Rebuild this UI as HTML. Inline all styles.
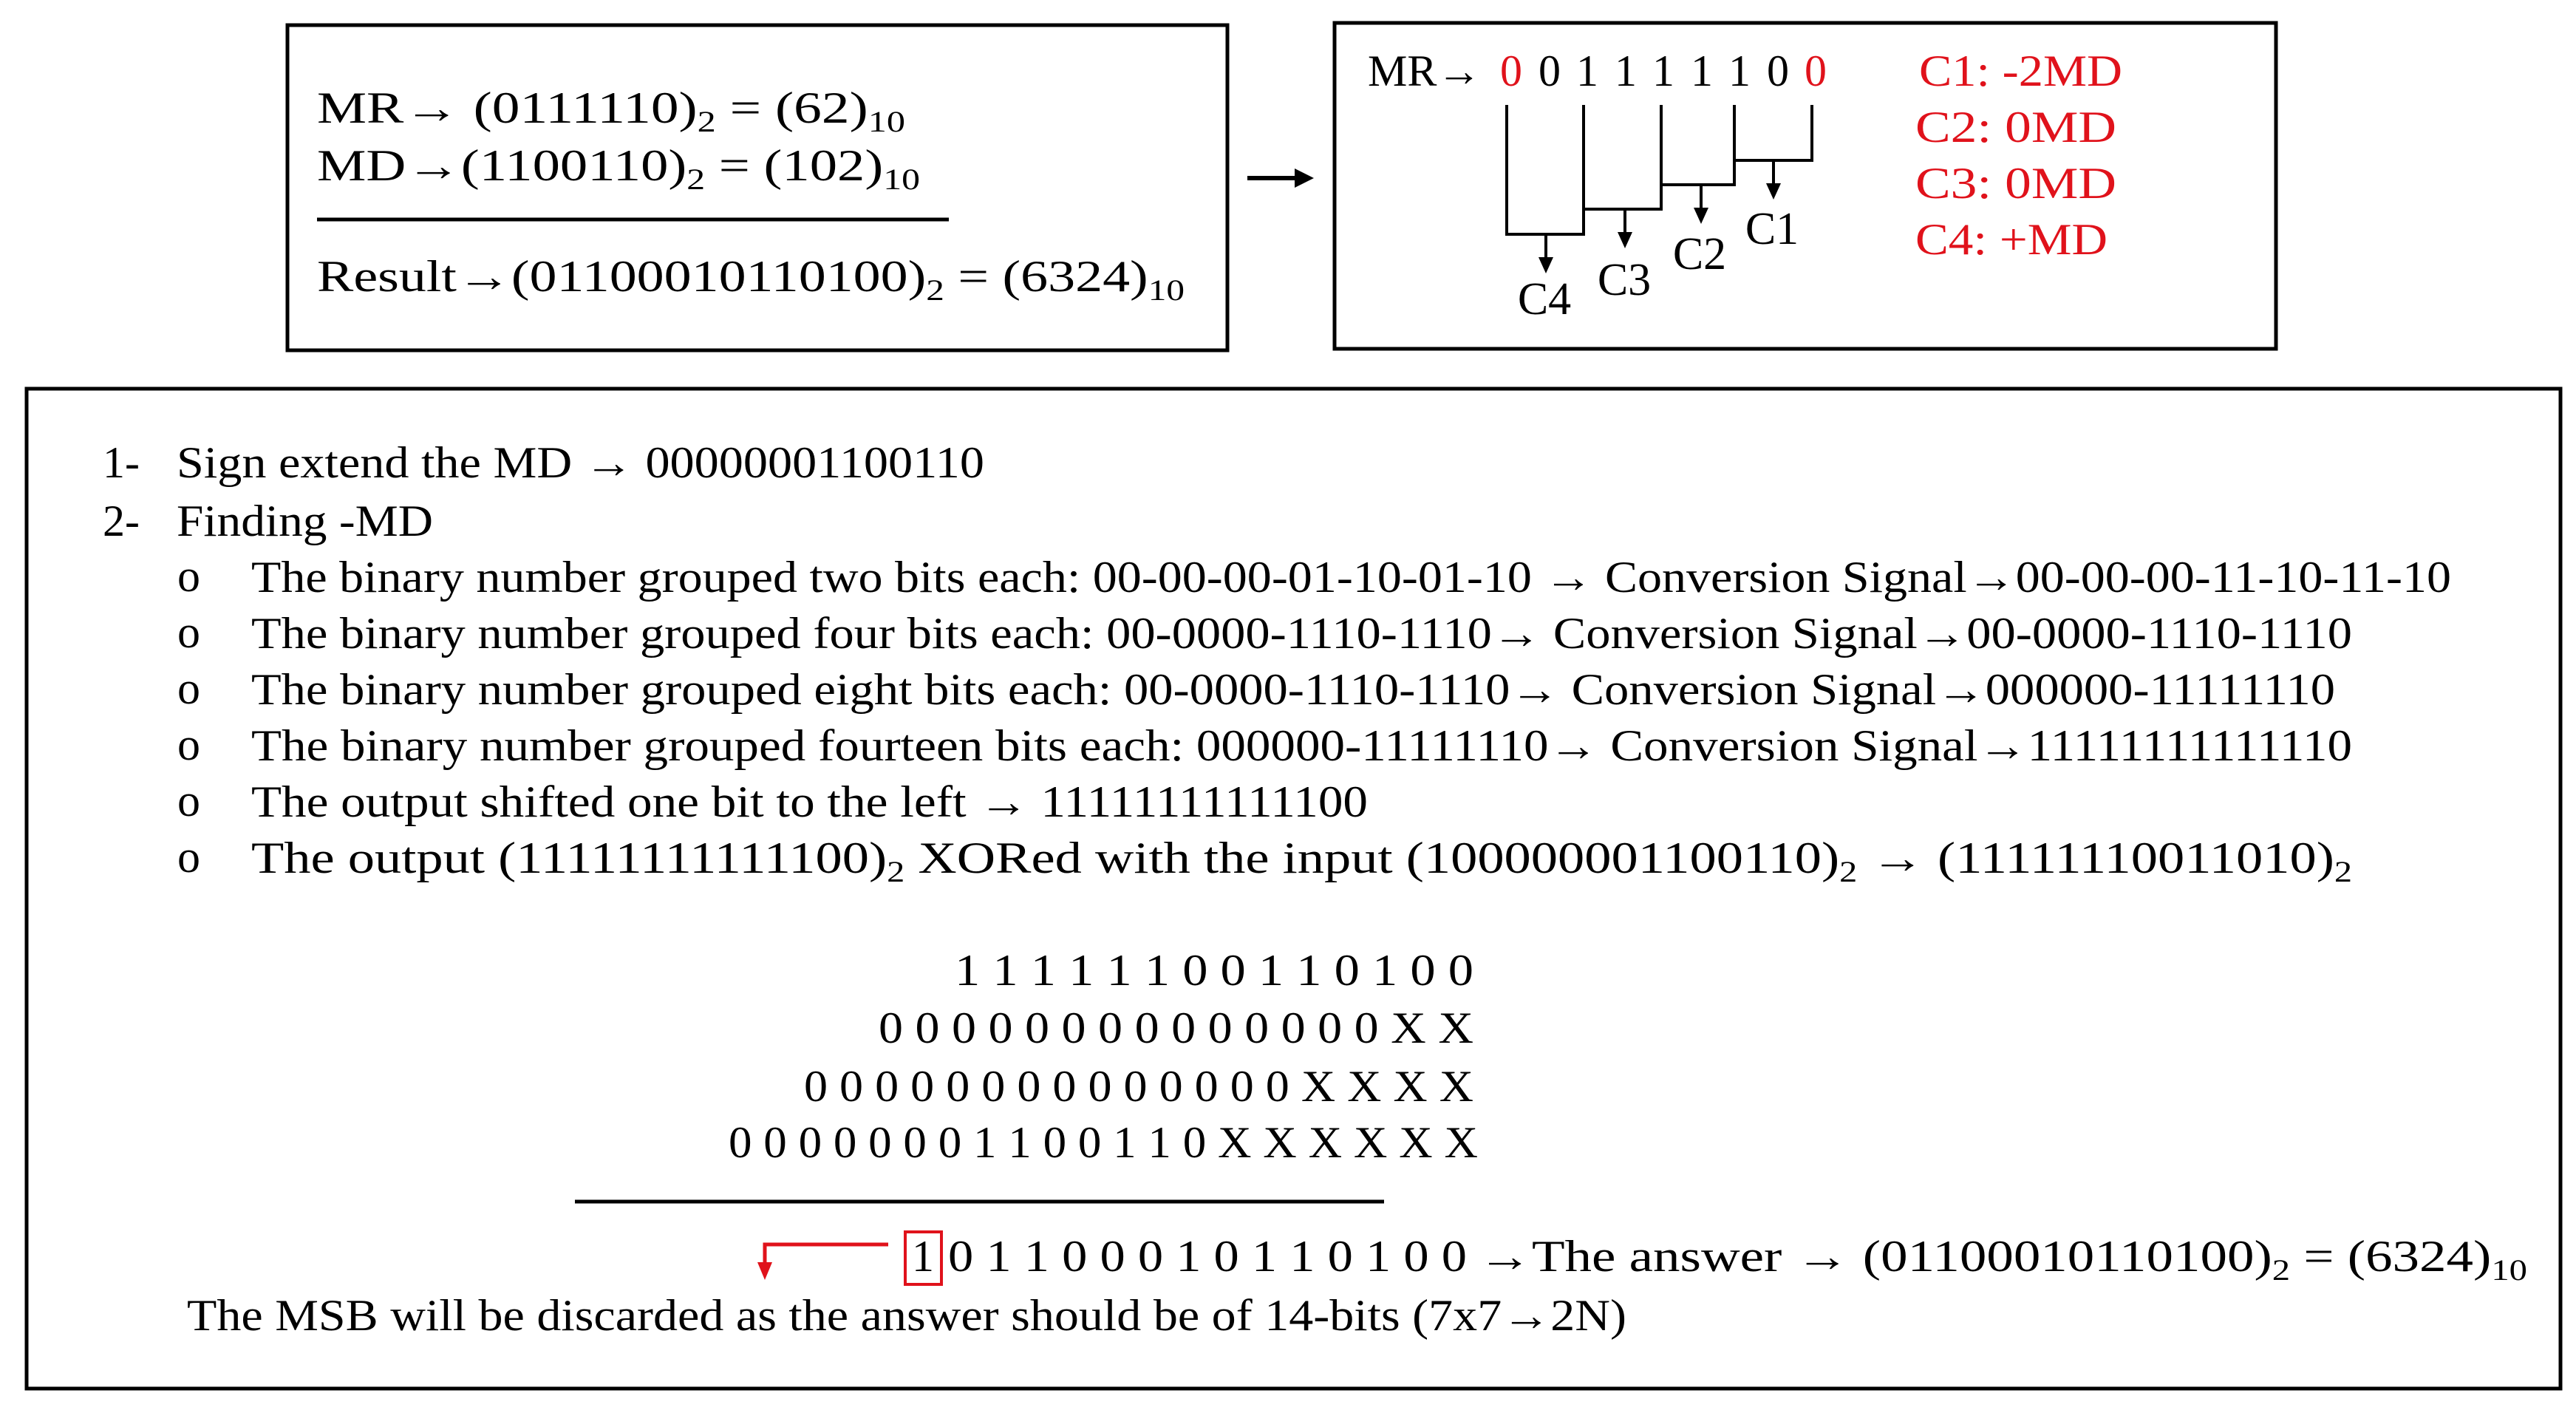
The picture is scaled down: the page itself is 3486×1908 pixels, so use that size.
<!DOCTYPE html>
<html><head><meta charset="utf-8"><style>
html,body{margin:0;padding:0;background:#fff;}
svg{display:block;}
text{font-family:"Liberation Serif","DejaVu Serif",serif;fill:#000;}
.r{fill:#e0121b;}
.a{font-weight:bold;}
</style></head><body>
<svg width="3486" height="1908" viewBox="0 0 3486 1908" xmlns="http://www.w3.org/2000/svg">
<rect x="389" y="34" width="1272" height="440" fill="none" stroke="#000" stroke-width="5"/>
<text x="429" y="166" font-size="60" textLength="796" lengthAdjust="spacingAndGlyphs">MR<tspan class="a">→</tspan> (0111110)<tspan font-size="40" dy="12">2</tspan><tspan dy="-12"> = (62)</tspan><tspan font-size="40" dy="12">10</tspan></text>
<text x="429" y="244" font-size="60" textLength="816" lengthAdjust="spacingAndGlyphs">MD<tspan class="a">→</tspan>(1100110)<tspan font-size="40" dy="12">2</tspan><tspan dy="-12"> = (102)</tspan><tspan font-size="40" dy="12">10</tspan></text>
<line x1="429" y1="297" x2="1284" y2="297" stroke="#000" stroke-width="5"/>
<text x="429" y="394" font-size="60" textLength="1174" lengthAdjust="spacingAndGlyphs">Result<tspan class="a">→</tspan>(01100010110100)<tspan font-size="40" dy="12">2</tspan><tspan dy="-12"> = (6324)</tspan><tspan font-size="40" dy="12">10</tspan></text>
<line x1="1688" y1="241" x2="1760" y2="241" stroke="#000" stroke-width="6"/>
<polygon points="1752,228 1778,241 1752,254" fill="#000"/>
<rect x="1806" y="31" width="1274" height="441" fill="none" stroke="#000" stroke-width="5"/>
<text x="1851" y="116" font-size="60">MR<tspan class="a">→</tspan></text>
<g font-size="60" text-anchor="middle">
<text class="r" x="2045" y="116">0</text>
<text x="2097" y="116">0</text>
<text x="2148" y="116">1</text>
<text x="2200" y="116">1</text>
<text x="2251" y="116">1</text>
<text x="2303" y="116">1</text>
<text x="2354" y="116">1</text>
<text x="2406" y="116">0</text>
<text class="r" x="2457" y="116">0</text>
</g>
<g stroke="#000" stroke-width="4" fill="none">
<polyline points="2039,142 2039,317 2143,317 2143,142"/>
<polyline points="2143,283 2248,283 2248,142"/>
<polyline points="2248,250 2347,250 2347,142"/>
<polyline points="2347,217 2452,217 2452,142"/>
<line x1="2400" y1="217" x2="2400" y2="252"/>
<line x1="2302" y1="250" x2="2302" y2="285"/>
<line x1="2199" y1="283" x2="2199" y2="318"/>
<line x1="2092" y1="317" x2="2092" y2="352"/>
</g>
<g fill="#000">
<polygon points="2390,248 2410,248 2400,270"/>
<polygon points="2292,281 2312,281 2302,303"/>
<polygon points="2189,314 2209,314 2199,336"/>
<polygon points="2082,348 2102,348 2092,370"/>
</g>
<g font-size="62" text-anchor="middle">
<text x="2398" y="330">C1</text>
<text x="2300" y="364">C2</text>
<text x="2198" y="399">C3</text>
<text x="2090" y="425">C4</text>
</g>
<g font-size="60">
<text class="r" x="2597" y="116" textLength="275" lengthAdjust="spacingAndGlyphs">C1: -2MD</text>
<text class="r" x="2592" y="192" textLength="272" lengthAdjust="spacingAndGlyphs">C2:  0MD</text>
<text class="r" x="2592" y="268" textLength="272" lengthAdjust="spacingAndGlyphs">C3:  0MD</text>
<text class="r" x="2592" y="344" textLength="260" lengthAdjust="spacingAndGlyphs">C4: +MD</text>
</g>
<rect x="36" y="526" width="3429" height="1353" fill="none" stroke="#000" stroke-width="5"/>
<g font-size="60">
<text x="139" y="646">1-</text>
<text x="239" y="646" textLength="1093" lengthAdjust="spacingAndGlyphs">Sign extend the MD <tspan class="a">→</tspan> 00000001100110</text>
<text x="139" y="725">2-</text>
<text x="239" y="725" textLength="347" lengthAdjust="spacingAndGlyphs">Finding -MD</text>
<g font-size="62"><text x="240" y="800">o</text><text x="240" y="876">o</text><text x="240" y="952">o</text><text x="240" y="1028">o</text><text x="240" y="1104">o</text><text x="240" y="1180">o</text></g>
<text x="340" y="801" textLength="2977" lengthAdjust="spacingAndGlyphs">The binary number grouped two bits each: 00-00-00-01-10-01-10 <tspan class="a">→</tspan> Conversion Signal<tspan class="a">→</tspan>00-00-00-11-10-11-10</text>
<text x="340" y="877" textLength="2843" lengthAdjust="spacingAndGlyphs">The binary number grouped four bits each: 00-0000-1110-1110<tspan class="a">→</tspan> Conversion Signal<tspan class="a">→</tspan>00-0000-1110-1110</text>
<text x="340" y="953" textLength="2820" lengthAdjust="spacingAndGlyphs">The binary number grouped eight bits each: 00-0000-1110-1110<tspan class="a">→</tspan> Conversion Signal<tspan class="a">→</tspan>000000-11111110</text>
<text x="340" y="1029" textLength="2843" lengthAdjust="spacingAndGlyphs">The binary number grouped fourteen bits each: 000000-11111110<tspan class="a">→</tspan> Conversion Signal<tspan class="a">→</tspan>11111111111110</text>
<text x="340" y="1105" textLength="1511" lengthAdjust="spacingAndGlyphs">The output shifted one bit to the left <tspan class="a">→</tspan> 11111111111100</text>
<text x="340" y="1181" textLength="2843" lengthAdjust="spacingAndGlyphs">The output (11111111111100)<tspan font-size="40" dy="12">2</tspan><tspan dy="-12"> XORed with the input (100000001100110)</tspan><tspan font-size="40" dy="12">2</tspan><tspan dy="-12"> </tspan><tspan class="a">→</tspan><tspan> (11111110011010)</tspan><tspan font-size="40" dy="12">2</tspan></text>
<text x="1292" y="1333" textLength="702" lengthAdjust="spacingAndGlyphs">1 1 1 1 1 1 0 0 1 1 0 1 0 0</text>
<text x="1189" y="1411" textLength="805" lengthAdjust="spacingAndGlyphs">0 0 0 0 0 0 0 0 0 0 0 0 0 0 X X</text>
<text x="1088" y="1490" textLength="906" lengthAdjust="spacingAndGlyphs">0 0 0 0 0 0 0 0 0 0 0 0 0 0 X X X X</text>
<text x="986" y="1566" textLength="1014" lengthAdjust="spacingAndGlyphs">0 0 0 0 0 0 0 1 1 0 0 1 1 0 X X X X X X</text>
</g>
<line x1="778" y1="1626" x2="1873" y2="1626" stroke="#000" stroke-width="5"/>
<polyline points="1202,1684 1035,1684 1035,1712" fill="none" stroke="#e0121b" stroke-width="5"/>
<polygon points="1025,1708 1045,1708 1035,1732" fill="#e0121b"/>
<rect x="1225" y="1667" width="49" height="71" fill="none" stroke="#e0121b" stroke-width="4"/>
<g font-size="60">
<text x="1234" y="1720">1</text>
<text x="1283" y="1720" textLength="702" lengthAdjust="spacingAndGlyphs">0 1 1 0 0 0 1 0 1 1 0 1 0 0</text>
<text x="2000" y="1720" textLength="1420" lengthAdjust="spacingAndGlyphs"><tspan class="a">→</tspan>The answer <tspan class="a">→</tspan> (01100010110100)<tspan font-size="40" dy="12">2</tspan><tspan dy="-12"> =  (6324)</tspan><tspan font-size="40" dy="12">10</tspan></text>
<text x="253" y="1800" textLength="1948" lengthAdjust="spacingAndGlyphs">The MSB will be discarded as the answer should be of 14-bits (7x7<tspan class="a">→</tspan>2N)</text>
</g>
</svg>
</body></html>
